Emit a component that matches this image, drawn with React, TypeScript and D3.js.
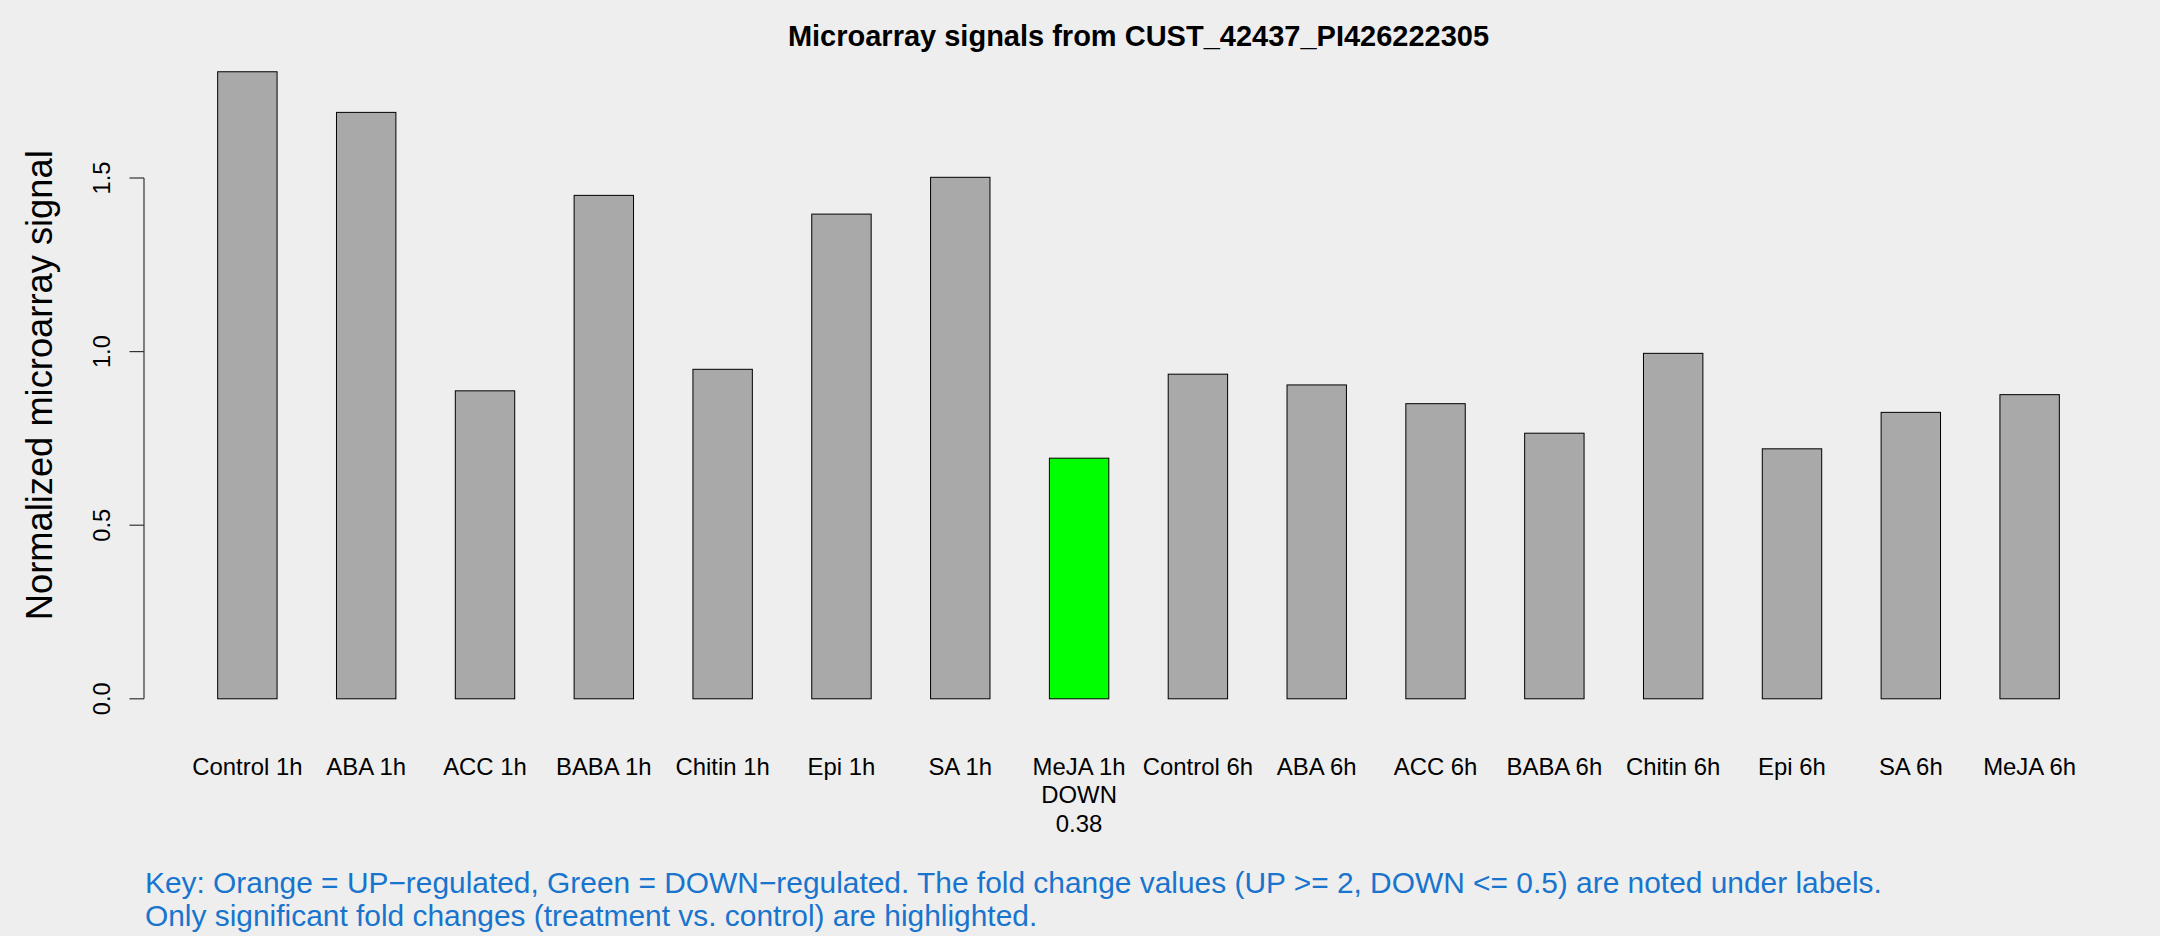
import React from "react";
import * as d3 from "d3";

const categories = [
  "Control 1h", "ABA 1h", "ACC 1h", "BABA 1h", "Chitin 1h", "Epi 1h", "SA 1h", "MeJA 1h",
  "Control 6h", "ABA 6h", "ACC 6h", "BABA 6h", "Chitin 6h", "Epi 6h", "SA 6h", "MeJA 6h",
];
const values = [
  1.806, 1.689, 0.887, 1.45, 0.949, 1.396, 1.502, 0.693,
  0.935, 0.904, 0.85, 0.765, 0.995, 0.72, 0.825, 0.876,
];
const regulation = ["", "", "", "", "", "", "", "DOWN", "", "", "", "", "", "", "", ""];
const foldChanges = ["", "", "", "", "", "", "", "0.38", "", "", "", "", "", "", "", ""];
const yTicks = [0, 0.5, 1.0, 1.5];

const title = "Microarray signals from CUST_42437_PI426222305";
const yLabel = "Normalized microarray signal";
const keyLines = [
  "Key: Orange = UP\u2212regulated, Green = DOWN\u2212regulated. The fold change values (UP >= 2, DOWN <= 0.5) are noted under labels.",
  "Only significant fold changes (treatment vs. control) are highlighted.",
];

const W = 2160;
const H = 936;
const FONT = "'Liberation Sans', Arial, Helvetica, sans-serif";

export default function App() {
  const n = categories.length;
  // R barplot user coordinates: bar i spans [1+2i, 2+2i], extended 4%
  const xMin = 1 - 0.04 * (2 * n - 1);
  const xMax = 2 * n + 0.04 * (2 * n - 1);
  const x = d3.scaleLinear().domain([xMin, xMax]).range([144, 2133]);
  const yMax = d3.max(values) as number;
  const y = d3
    .scaleLinear()
    .domain([-0.04 * yMax, yMax * 1.04])
    .range([698.8 + 0.04 * yMax * 347.2, 698.8 - yMax * 1.04 * 347.2]);

  const colorFor = (r: string) => (r === "DOWN" ? "#00FF00" : r === "UP" ? "#FFA500" : "#A9A9A9");

  return (
    <svg
      width={W}
      height={H}
      style={{ position: "absolute", left: 0, top: 0, display: "block" }}
      fontFamily={FONT}
    >
      <rect x={0} y={0} width={W} height={H} fill="#EEEEEE" />
      <text x={(x(xMin) + x(xMax)) / 2} y={46} textAnchor="middle" fontWeight="bold" fontSize={29} fill="#000">
        {title}
      </text>

      {/* y axis */}
      <line x1={144} x2={144} y1={y(0)} y2={y(yTicks[yTicks.length - 1])} stroke="#333" strokeWidth={1.2} />
      {yTicks.map((t) => (
        <g key={t}>
          <line x1={129.5} x2={144} y1={y(t)} y2={y(t)} stroke="#333" strokeWidth={1.2} />
          <text
            transform={`translate(110,${y(t)}) rotate(-90)`}
            textAnchor="middle"
            fontSize={23.7}
            fill="#000"
          >
            {t.toFixed(1)}
          </text>
        </g>
      ))}
      <text
        transform={`translate(52,${(y.range()[0] + y.range()[1]) / 2}) rotate(-90)`}
        textAnchor="middle"
        fontSize={36.3}
        fill="#000"
      >
        {yLabel}
      </text>

      {/* bars */}
      {values.map((v, i) => (
        <rect
          key={categories[i]}
          x={x(1 + 2 * i)}
          width={x(2 + 2 * i) - x(1 + 2 * i)}
          y={y(v)}
          height={y(0) - y(v)}
          fill={colorFor(regulation[i])}
          stroke="#000"
          strokeWidth={1}
        />
      ))}

      {/* category labels */}
      {categories.map((c, i) => {
        const cx = x(1.5 + 2 * i);
        const lines = [c, regulation[i], foldChanges[i]].filter((s) => s !== "");
        return (
          <text key={c} x={cx} y={775} textAnchor="middle" fontSize={23.9} fill="#000">
            {lines.map((l, j) => (
              <tspan key={j} x={cx} y={775 + j * 28.3}>
                {l}
              </tspan>
            ))}
          </text>
        );
      })}

      {/* key */}
      {keyLines.map((l, i) => (
        <text key={i} x={145} y={893 + i * 32.5} fontSize={29.9} fill="#1874CD">
          {l}
        </text>
      ))}
    </svg>
  );
}
